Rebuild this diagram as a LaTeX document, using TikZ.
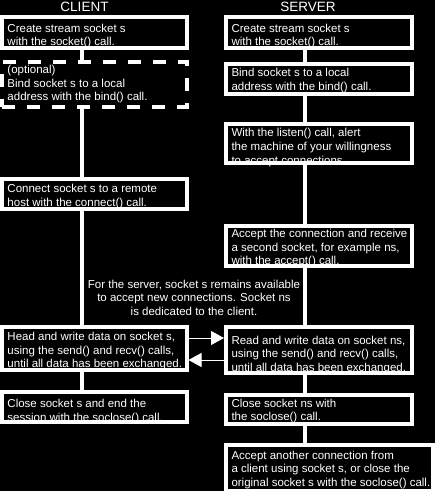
\documentclass[tikz,border=0pt]{standalone}
\usepackage{fontspec}
\setmainfont{Liberation Sans}
\usetikzlibrary{arrows.meta}
\newcommand\boxtxt[4]{\parbox[c][#1pt][t]{#2pt}{\leftskip=1.5pt\rule{0pt}{#3pt}#4}}
\newcommand\li[1]{\mbox{#1}}
\begin{document}
\begin{tikzpicture}[x=1pt,y=-1pt,
  stepbox/.style={draw=white, fill=black, text=white, line width=4pt,
    inner xsep=4pt, inner ysep=0pt, outer sep=0pt, anchor=north west,
    font=\fontsize{11.5}{13.7}\selectfont},
  optbox/.style={stepbox, dash pattern=on 13pt off 12pt},
  flow/.style={draw=white, line width=4pt},
  msg/.style={draw=white, line width=1pt, -{Triangle[length=13pt,width=14pt]}, shorten >=2pt},
  header/.style={text=white, font=\fontsize{13.5}{16}\selectfont, anchor=base, inner sep=0pt},
  note/.style={text=white, font=\fontsize{11.5}{13.5}\selectfont, align=center, inner sep=0pt, anchor=north}
]
\fill[black] (0,0) rectangle (435,491);
\useasboundingbox (0,0) rectangle (435,491);

\node[header] (hc) at (84.5,11) {CLIENT};
\node[header] (hs) at (308,11) {SERVER};

% client column
\node[stepbox] (C1) at (2,17) {\boxtxt{31}{176.5}{15}{\li{Create stream socket s}\\\li{with the socket() call.}}};
\node[optbox] (C2) at (2,62) {\boxtxt{44.5}{176.5}{11.5}{\li{(optional)}\\\li{Bind socket s to a local}\\\li{address with the bind() call.}}};
\node[stepbox] (C3) at (2,179) {\boxtxt{30}{176.5}{13.5}{\li{Connect socket s to a remote}\\\li{host with the connect() call.}}};
\node[stepbox] (C4) at (2,327) {\boxtxt{43}{176.5}{13.5}{\li{Head and write data on socket s,}\\\li{using the send() and recv() calls,}\\\li{until all data has been exchanged.}}};
\node[stepbox] (C5) at (2,392) {\boxtxt{30}{176.5}{15.3}{\li{Close socket s and end the}\\\li{session with the soclose() call.}}};

% server column
\node[stepbox] (S1) at (226,17) {\boxtxt{31}{178}{15}{\li{Create stream socket s}\\\li{with the socket() call.}}};
\node[stepbox] (S2) at (226,64) {\boxtxt{30}{178}{12.7}{\li{Bind socket s to a local}\\\li{address with the bind() call.}}};
\node[stepbox] (S3) at (226,124) {\boxtxt{39}{178}{12.7}{\li{With the listen() call, alert}\\\li{the machine of your willingness}\\\li{to accept connections.}}};
\node[stepbox] (S4) at (226,226) {\boxtxt{40}{178}{11.5}{\li{Accept the connection and receive}\\\li{a second socket, for example ns,}\\\li{with the accept() call.}}};
\node[stepbox] (S5) at (226,327) {\boxtxt{46}{178}{17}{\li{Read and write data on socket ns,}\\\li{using the send() and recv() calls,}\\\li{until all data has been exchanged.}}};
\node[stepbox] (S6) at (226,395) {\boxtxt{29}{178}{12}{\li{Close socket ns with}\\\li{the soclose() call.}}};
\node[stepbox] (S7) at (226,445) {\boxtxt{46}{199}{14}{\li{Accept another connection from}\\\li{a client using socket s, or close the}\\\li{original socket s with the soclose() call.}}};

\node[note] (note) at (194,279.7) {For the server, socket s remains available\\to accept new connections. Socket ns\\is dedicated to the client.};

% flow lines
\coordinate (cl) at (81.7,0);
\coordinate (sl) at (305,0);
\draw[flow] (C1.south -| cl) -- (C2.north -| cl);
\draw[flow] (C2.south -| cl) -- (C3.north -| cl);
\draw[flow] (C3.south -| cl) -- (C4.north -| cl);
\draw[flow] (C4.south -| cl) -- (C5.north -| cl);
\draw[flow] (S1.south -| sl) -- (S2.north -| sl);
\draw[flow] (S2.south -| sl) -- (S3.north -| sl);
\draw[flow] (S3.south -| sl) -- (S4.north -| sl);
\draw[flow] (S4.south -| sl) -- (S5.north -| sl);
\draw[flow] (S5.south -| sl) -- (S6.north -| sl);
\draw[flow] (S6.south -| sl) -- (S7.north -| sl);

% data exchange
\coordinate (a1) at (0,338);
\coordinate (a2) at (0,360);
\draw[msg] (C4.east |- a1) -- (S5.west |- a1);
\draw[msg] (S5.west |- a2) -- (C4.east |- a2);
\end{tikzpicture}
\end{document}
